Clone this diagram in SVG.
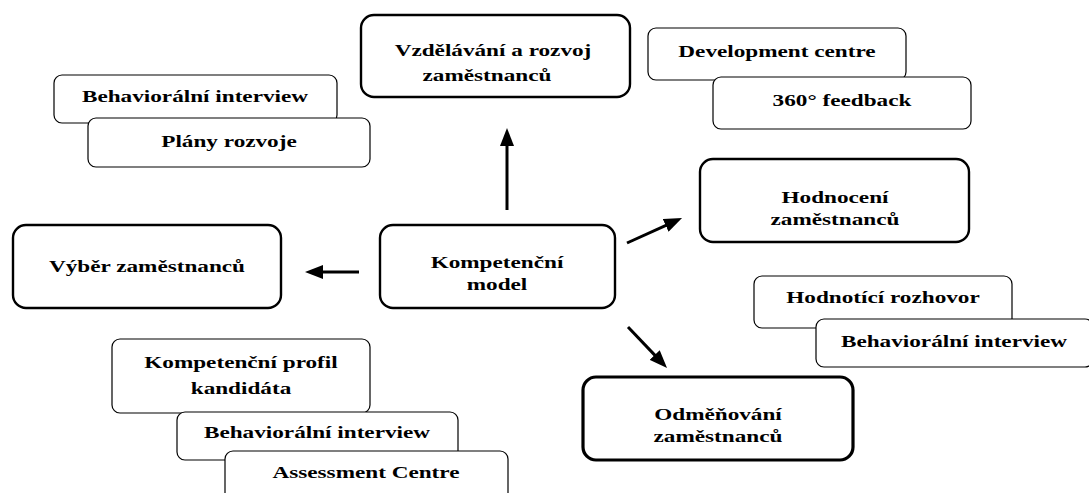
<svg xmlns="http://www.w3.org/2000/svg" width="1089" height="493" viewBox="0 0 1089 493">
<style>
.t{font-family:"Liberation Serif","Times New Roman",serif;font-weight:bold;font-size:17px;fill:#000;text-anchor:middle}
.main{fill:#fff;stroke:#000;stroke-width:2.4}
.thick{fill:#fff;stroke:#000;stroke-width:3.2}
.sub{fill:#fff;stroke:#000;stroke-width:1.2}
.arr{stroke:#000;stroke-width:3;fill:none;marker-end:url(#ah)}
</style>
<defs>
<marker id="ah" viewBox="0 0 18 14" refX="4" refY="7" markerWidth="18" markerHeight="14" markerUnits="userSpaceOnUse" orient="auto">
<path d="M0,0 L18,7 L0,14 z" fill="#000"/>
</marker>
</defs>
<rect width="1089" height="493" fill="#fff"/>

<g id="vzdelavani">
<rect class="main" x="361" y="15" width="269" height="82" rx="13"/>
<text class="t" transform="translate(493,56) scale(1.365,1)">Vzdělávání a rozvoj</text>
<text class="t" transform="translate(487,81) scale(1.365,1)">zaměstnanců</text>
</g>

<g id="beh-tl">
<rect class="sub" x="54" y="75" width="283" height="48" rx="8"/>
<text class="t" transform="translate(195,102) scale(1.365,1)">Behaviorální interview</text>
</g>
<g id="plany">
<rect class="sub" x="88" y="118" width="282" height="49" rx="8"/>
<text class="t" transform="translate(229,147) scale(1.365,1)">Plány rozvoje</text>
</g>

<g id="dev-centre">
<rect class="sub" x="648" y="28" width="258" height="52" rx="8"/>
<text class="t" transform="translate(777,57) scale(1.365,1)">Development centre</text>
</g>
<g id="feedback">
<rect class="sub" x="713" y="77" width="258" height="52" rx="8"/>
<text class="t" transform="translate(842,106) scale(1.365,1)">360° feedback</text>
</g>

<g id="hodnoceni">
<rect class="main" x="700" y="159" width="269" height="83" rx="13"/>
<text class="t" transform="translate(835,203) scale(1.365,1)">Hodnocení</text>
<text class="t" transform="translate(835,225) scale(1.365,1)">zaměstnanců</text>
</g>

<g id="vyber">
<rect class="main" x="13" y="225" width="268" height="83" rx="13"/>
<text class="t" transform="translate(147,272) scale(1.365,1)">Výběr zaměstnanců</text>
</g>

<g id="model">
<rect class="main" x="380" y="225" width="235" height="83" rx="13"/>
<text class="t" transform="translate(497,268) scale(1.365,1)">Kompetenční</text>
<text class="t" transform="translate(497,290) scale(1.365,1)">model</text>
</g>

<g id="hodnotici">
<rect class="sub" x="754" y="276" width="258" height="52" rx="8"/>
<text class="t" transform="translate(883,303) scale(1.365,1)">Hodnotící rozhovor</text>
</g>
<g id="beh-r">
<rect class="sub" x="816" y="319" width="277" height="48" rx="8"/>
<text class="t" transform="translate(954,347) scale(1.365,1)">Behaviorální interview</text>
</g>

<g id="odmenovani">
<rect class="thick" x="583" y="377" width="270" height="83" rx="13"/>
<text class="t" transform="translate(718,420) scale(1.365,1)">Odměňování</text>
<text class="t" transform="translate(718,442) scale(1.365,1)">zaměstnanců</text>
</g>

<g id="profil">
<rect class="sub" x="112" y="339" width="258" height="74" rx="8"/>
<text class="t" transform="translate(241,368) scale(1.365,1)">Kompetenční profil</text>
<text class="t" transform="translate(241,394) scale(1.365,1)">kandidáta</text>
</g>
<g id="beh-bl">
<rect class="sub" x="177" y="412" width="281" height="48" rx="8"/>
<text class="t" transform="translate(317,438) scale(1.365,1)">Behaviorální interview</text>
</g>
<g id="assessment">
<rect class="sub" x="225" y="451" width="283" height="60" rx="8"/>
<text class="t" transform="translate(366,478) scale(1.365,1)">Assessment Centre</text>
</g>

<g id="connectors">
<line class="arr" x1="507" y1="210" x2="507" y2="142"/>
<line class="arr" x1="359" y1="272" x2="319" y2="272"/>
<line class="arr" x1="627" y1="243" x2="669.3" y2="223.8"/>
<line class="arr" x1="628" y1="327" x2="657.4" y2="357.9"/>
</g>
</svg>
